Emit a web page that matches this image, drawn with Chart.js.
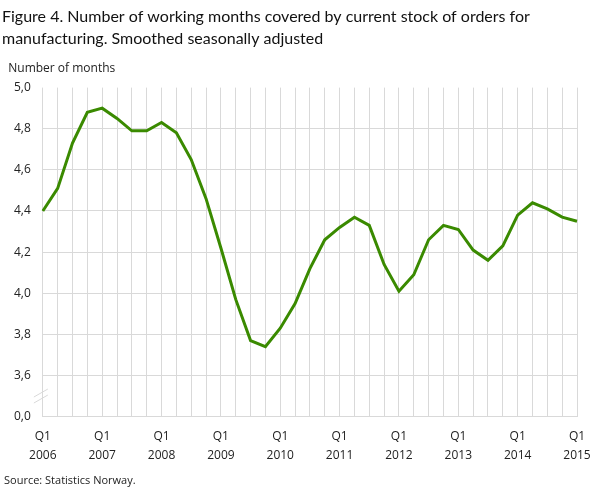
<!DOCTYPE html>
<html>
<head>
<meta charset="utf-8">
<script src="https://cdn.jsdelivr.net/npm/chart.js@4.4.1/dist/chart.umd.min.js"></script>
<style>
  html, body { margin: 0; padding: 0; background: #fff; }
  #wrap { position: relative; width: 609px; height: 489px; }
  #source { position: absolute; left: 4px; top: 472px; font: 11px "Open Sans", sans-serif; color: #222; }
</style>
</head>
<body>
<div id="wrap">
  <canvas id="chart" width="609" height="489"></canvas>
  <div id="source">Source: Statistics Norway.</div>
</div>
<script>
// quarters Q1 2006 .. Q1 2015
const years = [2006, 2007, 2008, 2009, 2010, 2011, 2012, 2013, 2014, 2015];
const quarters = [];
years.forEach(y => {
  for (let q = 1; q <= 4; q++) {
    if (y === 2015 && q > 1) break;
    quarters.push(y + 'Q' + q);
  }
});

// working months covered by stock of orders, smoothed seasonally adjusted
const months = [
  4.40, 4.51, 4.73, 4.88, 4.90, 4.85, 4.79, 4.79,
  4.83, 4.78, 4.65, 4.46, 4.22, 3.97, 3.77, 3.74,
  3.83, 3.95, 4.12, 4.26, 4.32, 4.37, 4.33, 4.14,
  4.01, 4.09, 4.26, 4.33, 4.31, 4.21, 4.16, 4.23,
  4.38, 4.44, 4.41, 4.37, 4.35
];

const yMin = 3.4; // shown as 0,0 (broken axis)
const yMax = 5.0;
const gridColor = '#d9d9d9';

const fmt = v => v.toFixed(1).replace('.', ',');

// draws the little "//" axis break between 0,0 and 3,6
const axisBreak = {
  id: 'axisBreak',
  afterDraw(chart) {
    const ctx = chart.ctx;
    const x = chart.scales.x.left;
    const y = chart.scales.y.getPixelForValue((yMin + 3.6) / 2);
    ctx.save();
    ctx.strokeStyle = gridColor;
    ctx.lineWidth = 1;
    [-3, 3].forEach(d => {
      ctx.beginPath();
      ctx.moveTo(x - 9, y + d + 4);
      ctx.lineTo(x + 5, y + d - 4);
      ctx.stroke();
    });
    ctx.restore();
  }
};

new Chart(document.getElementById('chart'), {
  type: 'line',
  data: {
    labels: quarters,
    datasets: [{
      data: months,
      borderColor: '#3a8a00',
      borderWidth: 3,
      pointRadius: 0,
      tension: 0,
      fill: false
    }]
  },
  options: {
    responsive: false,
    animation: false,
    layout: { padding: { left: 2, right: 32, top: 0, bottom: 14 } },
    plugins: {
      legend: { display: false },
      tooltip: { enabled: false },
      title: {
        display: true,
        align: 'start',
        text: ['Figure 4. Number of working months covered by current stock of orders for',
               'manufacturing. Smoothed seasonally adjusted'],
        color: '#111',
        font: { family: 'Lato', size: 16, weight: 'normal', lineHeight: 1.35 },
        padding: { top: 6, bottom: 10 }
      },
      subtitle: {
        display: true,
        align: 'start',
        text: '  Number of months',
        color: '#222',
        font: { family: 'Open Sans', size: 12 },
        padding: { top: 2, bottom: 12 }
      }
    },
    scales: {
      x: {
        type: 'category',
        offset: false,
        grid: { color: gridColor, drawTicks: false },
        border: { color: gridColor },
        ticks: {
          autoSkip: false,
          maxRotation: 0,
          padding: 10,
          color: '#222',
          font: { family: 'Open Sans', size: 12, lineHeight: 1.6 },
          callback: function (val, i) {
            const lab = quarters[i];
            return lab.endsWith('Q1') ? ['Q1', lab.slice(0, 4)] : '';
          }
        }
      },
      y: {
        min: yMin,
        max: yMax,
        grid: {
          drawTicks: false,
          color: c => Math.abs(c.tick.value - yMax) < 1e-6 ? 'rgba(0,0,0,0)' : gridColor
        },
        border: { display: false },
        ticks: {
          stepSize: 0.2,
          padding: 12,
          color: '#222',
          font: { family: 'Open Sans', size: 12 },
          callback: v => Math.abs(v - yMin) < 1e-6 ? '0,0' : fmt(v)
        }
      }
    }
  },
  plugins: [axisBreak]
});
</script>
</body>
</html>
